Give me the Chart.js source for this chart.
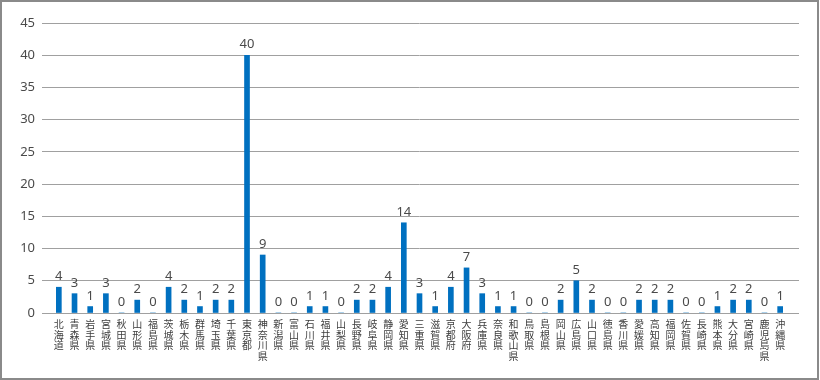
<!DOCTYPE html>
<html>
<head>
<meta charset="utf-8">
<script src="https://cdn.jsdelivr.net/npm/chart.js@4/dist/chart.umd.min.js"></script>
<style>
  html, body { margin: 0; padding: 0; background: #fff; }
  #wrap { position: relative; width: 820px; height: 380px; }
  #c { position: absolute; left: 0; top: 0; }
  #frame { position: absolute; left: 0; top: 0; width: 819px; height: 380px; box-sizing: border-box; border: 2px solid #8a8a8a; pointer-events: none; }
</style>
</head>
<body>
<div id="wrap">
  <canvas id="c" width="820" height="380"></canvas>
  <div id="frame"></div>
</div>
<script>
const categories = ['北海道','青森県','岩手県','宮城県','秋田県','山形県','福島県','茨城県','栃木県','群馬県','埼玉県','千葉県','東京都','神奈川県','新潟県','富山県','石川県','福井県','山梨県','長野県','岐阜県','静岡県','愛知県','三重県','滋賀県','京都府','大阪府','兵庫県','奈良県','和歌山県','鳥取県','島根県','岡山県','広島県','山口県','徳島県','香川県','愛媛県','高知県','福岡県','佐賀県','長崎県','熊本県','大分県','宮崎県','鹿児島県','沖縄県'];
const values = [4,3,1,3,0,2,0,4,2,1,2,2,40,9,0,0,1,1,0,2,2,4,14,3,1,4,7,3,1,1,0,0,2,5,2,0,0,2,2,2,0,0,1,2,2,0,1];
const yTicks = [0,5,10,15,20,25,30,35,40,45];

const gridColor = '#a0a0a0';
const numFont = { family: '"Noto Sans", "DejaVu Sans", sans-serif', size: 13 };

const valueLabels = {
  id: 'valueLabels',
  afterDatasetsDraw(chart) {
    const ctx = chart.ctx;
    const meta = chart.getDatasetMeta(0);
    ctx.save();
    ctx.font = '13px "Noto Sans", "DejaVu Sans", sans-serif';
    ctx.fillStyle = '#4a4a4a';
    ctx.textAlign = 'center';
    ctx.textBaseline = 'alphabetic';
    meta.data.forEach((el, i) => {
      ctx.fillText(String(values[i]), el.x, el.y - 7);
    });
    ctx.restore();
  }
};

new Chart(document.getElementById('c'), {
  type: 'bar',
  data: {
    labels: categories.map(s => s.split('')),
    datasets: [{
      data: values,
      backgroundColor: '#0070c0',
      borderWidth: 0,
      barThickness: 5
    }]
  },
  options: {
    responsive: false,
    animation: false,
    devicePixelRatio: 1,
    layout: { padding: { top: 23, right: 0, bottom: 0, left: 0 } },
    plugins: { legend: { display: false }, tooltip: { enabled: false } },
    scales: {
      x: {
        offset: true,
        grid: { display: false, drawTicks: false },
        border: { display: false },
        ticks: {
          autoSkip: false, maxRotation: 0, minRotation: 0,
          padding: 6,
          color: '#3c3c3c',
          font: { family: '"Noto Sans CJK JP", sans-serif', size: 10, lineHeight: 1.05 }
        },
        afterFit(s) { s.height = 67; }
      },
      y: {
        min: 0, max: 45,
        afterBuildTicks(s) { s.ticks = yTicks.map(v => ({ value: v })); },
        grid: { color: gridColor, lineWidth: 1, drawTicks: true, tickLength: 9 },
        border: { display: false },
        ticks: { padding: 7, color: '#4a4a4a', font: numFont },
        afterFit(s) { s.width = 51; }
      },
      y2: {
        position: 'right',
        min: 0, max: 45,
        afterBuildTicks(s) { s.ticks = yTicks.map(v => ({ value: v })); },
        grid: { color: gridColor, lineWidth: 1, drawOnChartArea: false, drawTicks: true, tickLength: 11 },
        border: { display: false },
        ticks: { display: false },
        afterFit(s) { s.width = 32; }
      }
    }
  },
  plugins: [valueLabels]
});
</script>
</body>
</html>
